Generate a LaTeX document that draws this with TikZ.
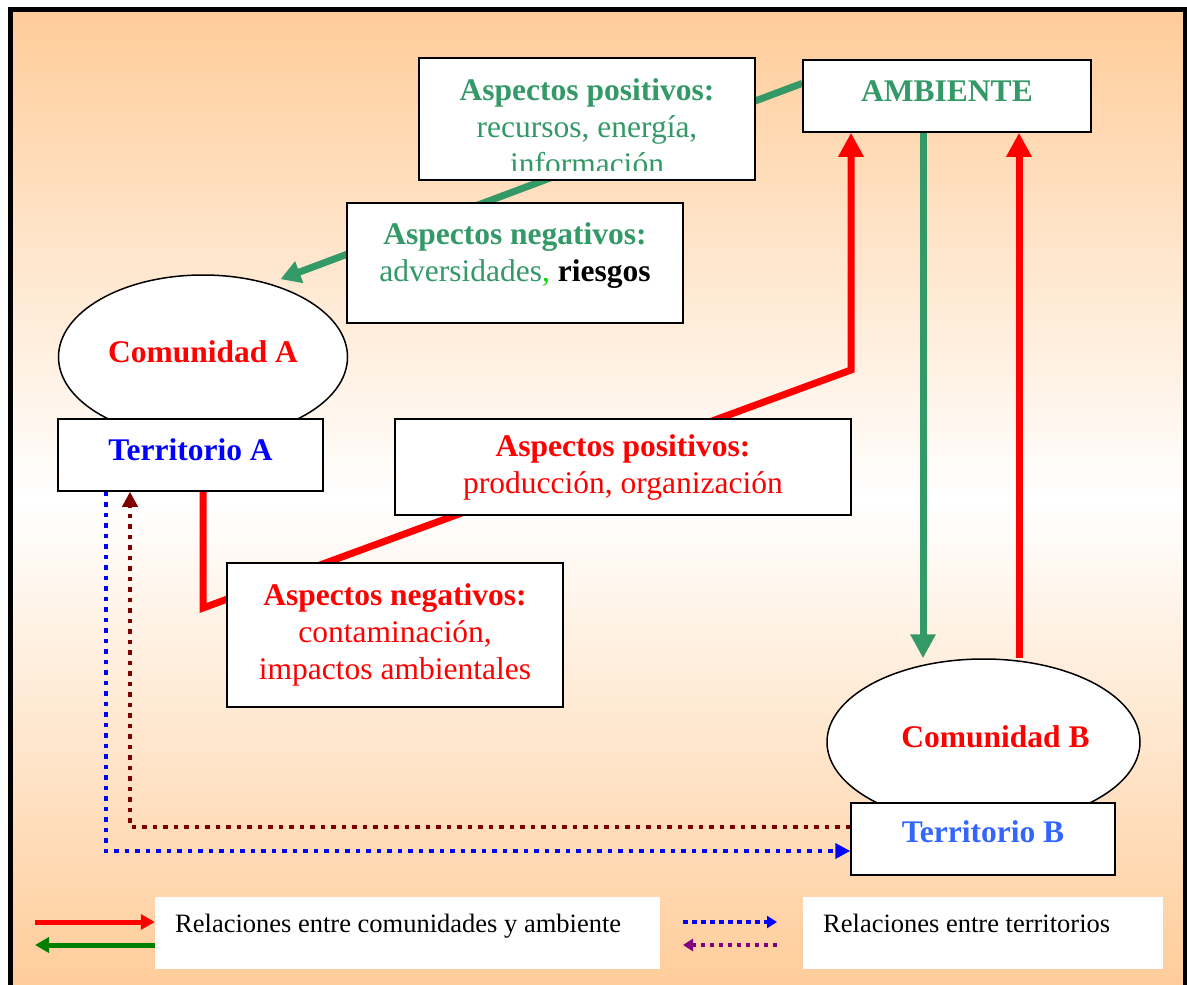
\documentclass[tikz,border=0pt]{standalone}
\usepackage{fontspec}
\setmainfont{Liberation Serif}
\usetikzlibrary{shapes.geometric,arrows.meta,backgrounds}

\definecolor{peach}{RGB}{255,204,153}
\definecolor{aspgreen}{RGB}{51,153,102}
\definecolor{terblue}{RGB}{51,102,255}
\definecolor{darkred}{RGB}{128,0,0}
\definecolor{leggreen}{RGB}{0,128,0}
\definecolor{legpurple}{RGB}{128,0,128}
\definecolor{commagreen}{RGB}{0,220,0}

\newcommand{\boxfont}{\fontsize{31.5}{37}\selectfont}
\newcommand{\legfont}{\fontsize{26.5}{30}\selectfont}

\begin{document}
\begin{tikzpicture}[x=1pt, y=-1pt,
    box/.style={draw, line width=1.5pt, fill=white, rectangle, inner sep=0pt, font=\boxfont, align=center},
    blob/.style={draw, line width=1.5pt, fill=white, ellipse, inner sep=0pt, font=\boxfont\bfseries},
    txt/.style={inner sep=0pt, font=\boxfont, align=center},
    legbox/.style={fill=white, inner sep=0pt},
    redarrow/.style={red, line width=7pt, -{Triangle[width=24pt,length=24pt]}},
    greenarrow/.style={aspgreen, line width=7pt, -{Triangle[width=24pt,length=24pt]}},
    dotarrow/.style={line width=4.5pt, dash pattern=on 4.5pt off 6pt, -{Triangle[width=15pt,length=15pt]}},
    keyarrow/.style={line width=5pt, -{Triangle[width=15pt,length=14pt]}},
    keydots/.style={line width=4.5pt, dash pattern=on 4.5pt off 4.5pt, -{Triangle[width=12pt,length=10pt]}}]
    \useasboundingbox (0,0) rectangle (1187,985);

    % ambiente and its aspects
    \node[box, minimum width=288pt, minimum height=72pt, text depth=10pt, text=aspgreen, font=\boxfont\bfseries] (amb) at (947,96) {AMBIENTE};
    \node[box, minimum width=336pt, minimum height=122pt] (posA) at (587,119) {};
    \begin{scope}
        \clip (posA.north west) rectangle ([yshift=10pt]posA.south east);
        \node[txt, text=aspgreen, anchor=north] (posAtxt) at (587,78)
            {\textbf{Aspectos positivos:}\\recursos, energía,\\información};
    \end{scope}
    \node[box, minimum width=336pt, minimum height=120pt] (negA) at (515,263) {};
    \node[txt, text=aspgreen, anchor=north] (negAtxt) at (515,222)
        {\textbf{Aspectos negativos:}\\adversidades\textcolor{commagreen}{,} \textcolor{black}{\textbf{riesgos}}};

    % comunidad A
    \node[blob, minimum width=289pt, minimum height=164pt, text depth=10pt, text=red] (comA) at (203,357) {Comunidad A};
    \node[box, minimum width=265pt, minimum height=72pt, text depth=11.5pt, text=blue, font=\boxfont\bfseries] (terA) at (190.5,455) {Territorio A};
    \node[box, minimum width=456pt, minimum height=96pt, text=red] (posB) at (623,467)
        {\textbf{Aspectos positivos:}\\producción, organización};
    \node[box, minimum width=336pt, minimum height=144pt, text=red] (negB) at (395,635)
        {\textbf{Aspectos negativos:}\\contaminación,\\impactos ambientales};

    % comunidad B
    \node[blob, minimum width=313pt, minimum height=166pt, text depth=10pt, text=red] (comB) at (983.5,742) {\hspace{24pt}Comunidad B};
    \node[box, minimum width=264pt, minimum height=72pt, text depth=15.5pt, text=terblue, font=\boxfont\bfseries] (terB) at (983,839) {Territorio B};

    % legend
    \node[legbox, minimum width=505pt, minimum height=72pt] (legA) at (407.5,933) {};
    \node[inner sep=0pt, font=\legfont, anchor=base west] (legAtxt) at (175,932) {Relaciones entre comunidades y ambiente};
    \node[legbox, minimum width=360pt, minimum height=72pt] (legB) at (983,933) {};
    \node[inner sep=0pt, font=\legfont, anchor=base west] (legBtxt) at (823,932) {Relaciones entre territorios};

    \begin{scope}[on background layer]
        \shade[top color=peach, bottom color=peach, middle color=white] (10,9.5) rectangle (1185,990);
        \draw[line width=5pt] (10,9.5) rectangle (1185,990);

        \coordinate (bendA) at (203,608);
        \coordinate (bendB) at (851,370);
        \coordinate (gB) at ([xshift=-24pt]amb.south);
        \coordinate (rB) at ([xshift=72pt]amb.south);
        \draw[greenarrow, -{Triangle[width=22pt,length=20pt]}, shorten >=12pt] (amb.175) -- (comA.48);
        \draw[redarrow] ([xshift=12.5pt]terA.south) -- (bendA) -- (bendB) -- ([xshift=-96pt]amb.south);
        \draw[greenarrow] (gB) -- (gB |- comB.north);
        \draw[redarrow] (rB |- comB.north) -- (rB);

        \coordinate (tA1) at ([xshift=-84.5pt]terA.south);
        \coordinate (tB1) at ([yshift=-12pt]terB.west);
        \coordinate (tA2) at ([xshift=-60.5pt]terA.south);
        \coordinate (tB2) at ([yshift=12pt]terB.west);
        \draw[dotarrow, blue] (tA1) |- (tB1);
        \draw[dotarrow, darkred] (tB2) -| (tA2);

        \coordinate (keyR) at (35,922);
        \coordinate (keyG) at (35,945);
        \draw[keyarrow, red] (keyR) -- (keyR -| legA.west);
        \draw[keyarrow, leggreen] (keyG -| legA.west) -- (keyG);
        \coordinate (keyB0) at (683,922);
        \coordinate (keyB1) at (777,922);
        \coordinate (keyP0) at (777,945);
        \coordinate (keyP1) at (683,945);
        \draw[keydots, blue] (keyB0) -- (keyB1);
        \draw[keydots, legpurple] (keyP0) -- (keyP1);
    \end{scope}
\end{tikzpicture}
\end{document}
